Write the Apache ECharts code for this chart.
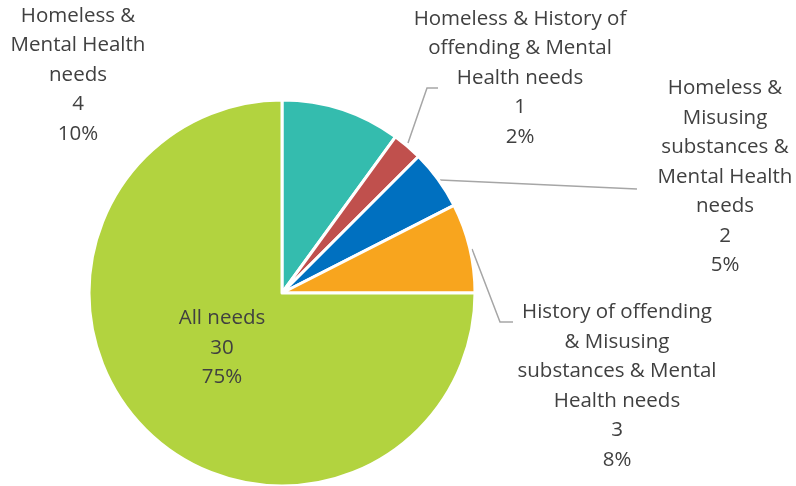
<!DOCTYPE html>
<html><head><meta charset="utf-8">
<script src="https://cdn.jsdelivr.net/npm/echarts@6/dist/echarts.min.js"></script>
<style>html,body{margin:0;padding:0;background:#fff}#c{width:796px;height:486px}</style>
</head><body><div id="c"></div>
<script>
var categories = [
  'Homeless &\nMental Health\nneeds',
  'Homeless & History of\noffending & Mental\nHealth needs',
  'Homeless &\nMisusing\nsubstances &\nMental Health\nneeds',
  'History of offending\n& Misusing\nsubstances & Mental\nHealth needs',
  'All needs'
];
var values = [4, 1, 2, 3, 30];
var percentLabels = ['10%', '2%', '5%', '8%', '75%'];
var colors = ['#34BCAE', '#C0504D', '#0070C0', '#F8A51E', '#B2D33F'];

// label placement (layout only)
var labelPos = [[78, 75], [520, 78], [725, 177], [617, 386], [222, 348]];
var linePts = [null, [[408,143],[427,88],[438,88]], [[440,180],[637,189]], [[472,249],[500,322],[513,322]], null];

var chart = echarts.init(document.getElementById('c'), null, {renderer: 'canvas'});
var data = categories.map(function (n, i) {
  return {
    name: n, value: values[i],
    itemStyle: {color: colors[i]},
    labelLine: {show: !!linePts[i]}
  };
});
chart.setOption({
  animation: false,
  series: [{
    type: 'pie',
    center: [282, 293],
    radius: [0, 193],
    startAngle: 90,
    clockwise: true,
    data: data,
    itemStyle: {borderColor: '#fff', borderWidth: 3},
    label: {
      show: true,
      fontFamily: 'Open Sans',
      fontSize: 20.5,
      lineHeight: 29.5,
      color: '#404040',
      align: 'center',
      formatter: function (p) { return p.name + '\n' + p.value + '\n' + percentLabels[p.dataIndex]; }
    },
    labelLine: {show: true, lineStyle: {color: '#A6A6A6', width: 1.5}},
    labelLayout: function (p) {
      var i = p.dataIndex;
      var o = {x: labelPos[i][0], y: labelPos[i][1], align: 'center', verticalAlign: 'middle'};
      if (linePts[i]) o.labelLinePoints = linePts[i];
      return o;
    }
  }]
});
</script></body></html>
